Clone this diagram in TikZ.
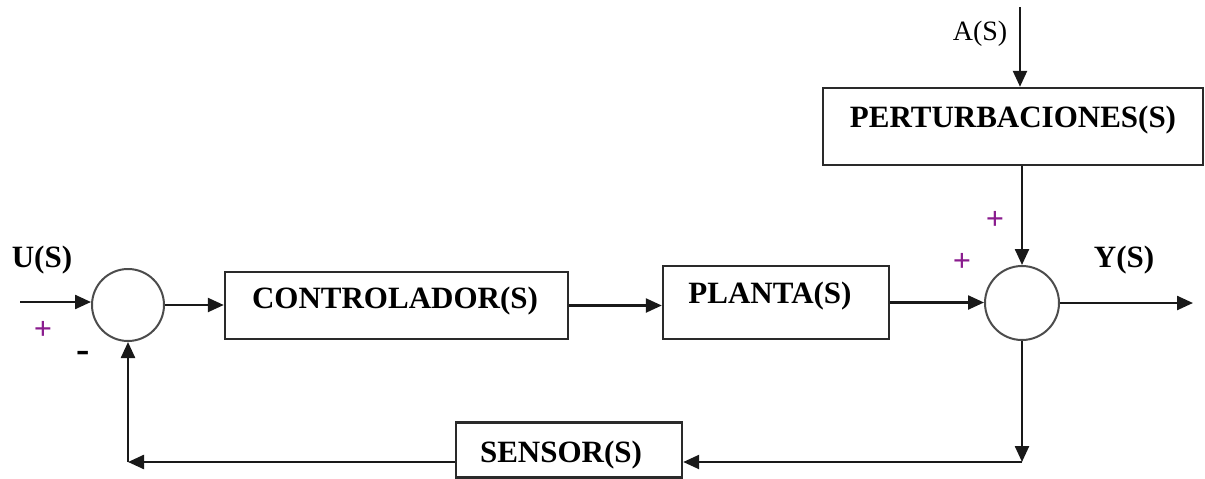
\documentclass[tikz,border=0pt]{standalone}
\usepackage{fontspec}
\setmainfont{Liberation Serif}
\usetikzlibrary{arrows.meta}
\definecolor{pluscol}{HTML}{8A1C8E}
\definecolor{edgecol}{HTML}{2A2A2A}
\begin{document}
\begin{tikzpicture}[x=1pt,y=-1pt,
  blk/.style={draw=edgecol,line width=2.4pt,rectangle,inner sep=0pt},
  sumnode/.style={draw=black!70,line width=2pt,circle,minimum size=72pt,inner sep=0pt},
  lbl/.style={font=\fontsize{31}{36}\selectfont\bfseries,inner sep=0pt,anchor=base},
  sig/.style={font=\fontsize{28}{34}\selectfont,inner sep=0pt,anchor=base},
  sgn/.style={font=\fontsize{32}{36}\selectfont\bfseries,inner sep=0pt,text=pluscol},
  arr/.style={line width=2.4pt,draw=black!90,-{Triangle[length=16pt,width=14pt]}},
  ln/.style={line width=2.4pt,draw=black!90}]
\useasboundingbox (0,0) rectangle (1205,479);
% blocks
\node[sumnode] (sum1) at (128,305) {};
\node[blk,minimum width=343pt,minimum height=67pt] (ctrl) at (396.5,305.5) {};
\node[blk,minimum width=226pt,minimum height=73pt] (plant) at (776,302.5) {};
\node[sumnode,minimum size=74pt] (sum2) at (1022,303) {};
\node[blk,minimum width=380pt,minimum height=77pt] (pert) at (1013,126.5) {};
\node[blk,minimum width=226pt,minimum height=55pt] (sensor) at (569,450) {};
% block texts
\node[lbl] (tctrl) at (395,308) {CONTROLADOR(S)};
\node[lbl] (tplant) at (770,303) {PLANTA(S)};
\node[lbl] (tpert) at (1013,127) {PERTURBACIONES(S)};
\node[lbl] (tsens) at (561,462) {SENSOR(S)};
% signal labels
\node[lbl] (lu) at (42,267) {U(S)};
\node[lbl] (ly) at (1124,267) {Y(S)};
\node[sig] (la) at (980,40) {A(S)};
% signs
\node[sgn] (p1) at (43,330) {+};
\node[sgn] (p2) at (995,220) {+};
\node[sgn] (p3) at (962,262) {+};
\node[font=\fontsize{40}{44}\selectfont\bfseries,inner sep=0pt,text=black] (m1) at (83,357) {-};
% coordinates
\coordinate (uin) at (20,302);
\coordinate (yout) at (1193,303);
\coordinate (ain) at (1020,7);
\coordinate (fbc) at (1022,462);
\coordinate (fbl) at (128,462);
% connectors
\draw[arr] (uin) -- (uin -| sum1.west);
\draw[arr] (sum1.east) -- (sum1.east -| ctrl.west);
\draw[arr] (ctrl.east) -- (ctrl.east -| plant.west);
\draw[arr] (plant.east) -- (plant.east -| sum2.west);
\draw[arr] (sum2.east) -- (yout);
\draw[arr] (ain) -- (ain |- pert.north);
\draw[arr] (sum2.north |- pert.south) -- (sum2.north);
\draw[arr] (sum2.south) -- (fbc);
\draw[arr] (fbc) -- (fbc -| sensor.east);
\draw[arr] (fbc -| sensor.west) -- (fbl);
\draw[arr] (fbl) -- (sum1.south);
\end{tikzpicture}
\end{document}
